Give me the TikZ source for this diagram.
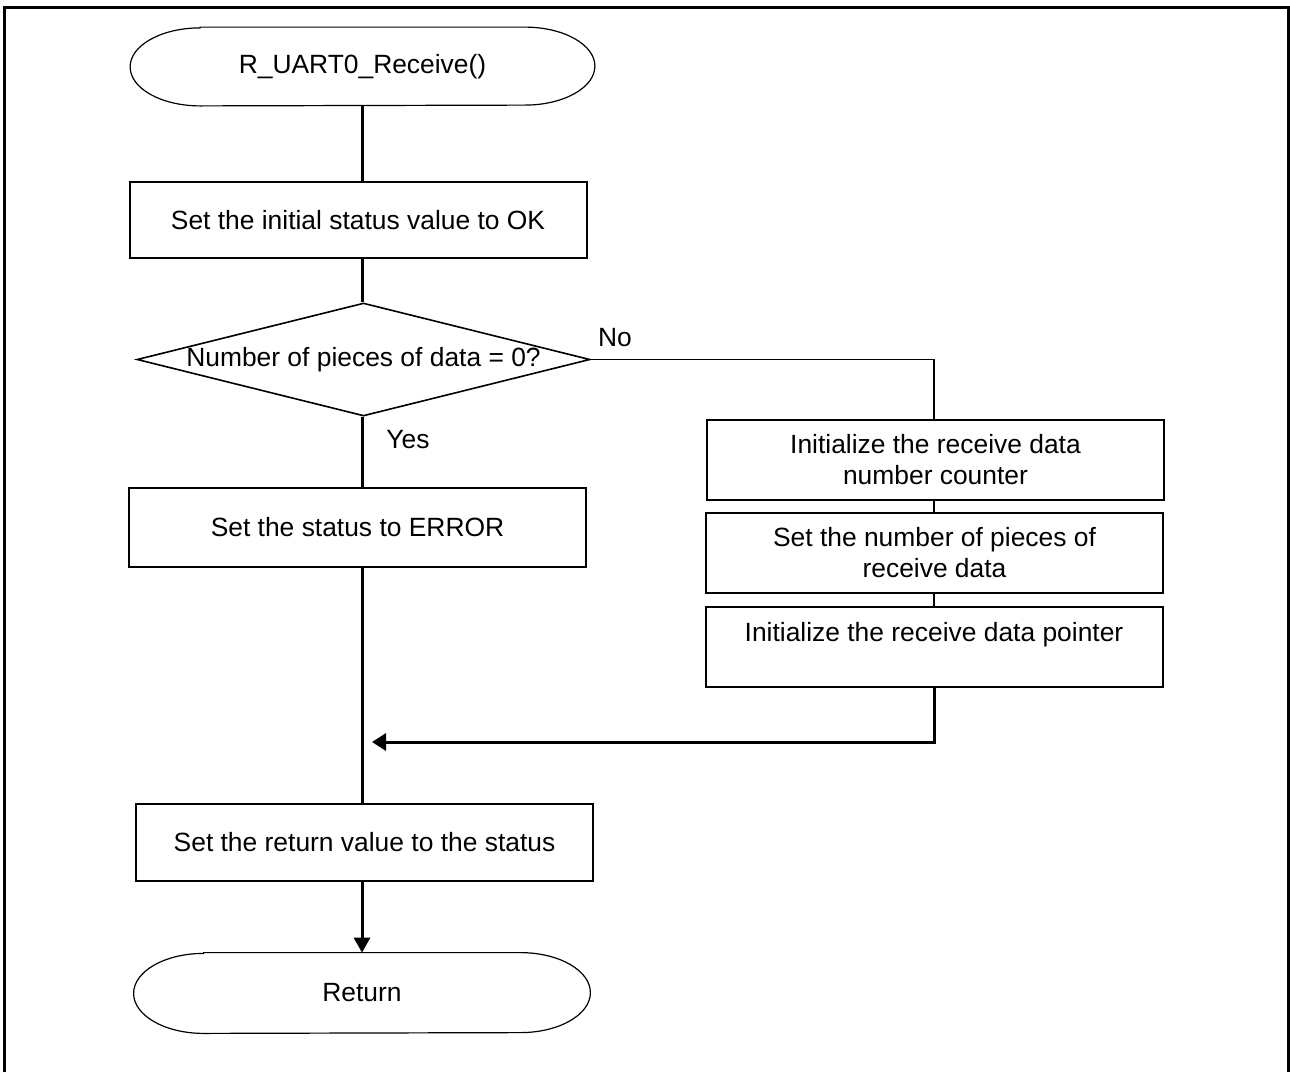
\documentclass[tikz,border=0pt]{standalone}
\usepackage{fontspec}
\setmainfont{Liberation Sans}
\usetikzlibrary{shapes.geometric,arrows.meta}

\begin{document}
\begin{tikzpicture}[x=0.5pt,y=-0.5pt,
  font=\fontsize{13.2pt}{15.5pt}\selectfont,
  proc/.style={draw, line width=1pt, minimum width=228.5pt, minimum height=39.5pt, align=center, inner sep=0pt},
  term/.style={minimum width=232pt, minimum height=39pt, inner sep=0pt},
  flow/.style={line width=1.5pt},
  link/.style={line width=0.6pt}]
\useasboundingbox (0,0) rectangle (1290,1072);
\draw[line width=1.5pt] (4.5,1072) -- (4.5,7) -- (1288,7) -- (1288,1072);
% terminals
\node[term] (start) at (362.5,66.5) {R\_UART0\_Receive()};
\draw[link] ([xshift=35pt]start.north west) -- ([xshift=-35pt]start.north east)
  arc[start angle=90,end angle=-90,x radius=35pt,y radius=19.5pt]
  -- ([xshift=35pt]start.south west)
  arc[start angle=270,end angle=90,x radius=35pt,y radius=19.5pt] -- cycle;
\node[term, minimum width=228pt, minimum height=40pt] (fin) at (362,993) {Return};
\draw[link] ([xshift=35pt]fin.north west) -- ([xshift=-35pt]fin.north east)
  arc[start angle=90,end angle=-90,x radius=35pt,y radius=20pt]
  -- ([xshift=35pt]fin.south west)
  arc[start angle=270,end angle=90,x radius=35pt,y radius=20pt] -- cycle;
% left column
\node[proc, minimum height=38pt] (init) at (358,220) {Set the initial status value to OK};
\node[diamond, draw, line width=0.8pt, minimum width=226.5pt, minimum height=56.5pt, inner sep=0pt] (chk) at (363.5,359.5) {};
\node (chklbl) at (chk.center) {Number of pieces of data = 0?};
\node[proc] (err) at (357.5,527.5) {Set the status to ERROR};
\node[proc, minimum height=38.5pt] (ret) at (364.5,842.5) {Set the return value to the status};
% right column
\node[proc, minimum height=40pt] (r1) at (935.5,460) {Initialize the receive data\\number counter};
\node[proc, minimum height=40pt] (r2) at (934.5,553) {Set the number of pieces of\\receive data};
\node[proc, minimum height=40pt] (r3) at (934,647) {Initialize the receive data pointer\\\mbox{}};
\node (no) at (615,338) {No};
\node (yes) at (408,440) {Yes};
\coordinate (mrg) at (372,742);
% connectors
\draw[flow] (start.south) -- (start.south |- init.north);
\draw[flow] (start.south |- init.south) -- (start.south |- chk.north);
\draw[flow] (start.south |- chk.south) -- (start.south |- err.north);
\draw[flow] (start.south |- err.south) -- (start.south |- ret.north);
\draw[flow, -{Triangle[length=7.5pt,width=8pt]}] (fin.north |- ret.south) -- (fin.north);
\draw[link] (chk.east) -| (r3.north |- r1.north);
\draw[link] (r3.north |- r1.south) -- (r3.north |- r2.north);
\draw[link] (r3.north |- r2.south) -- (r3.north);
\draw[flow, -{Triangle[length=7pt,width=8.5pt]}] (r3.south) |- (mrg);
\end{tikzpicture}
\end{document}
